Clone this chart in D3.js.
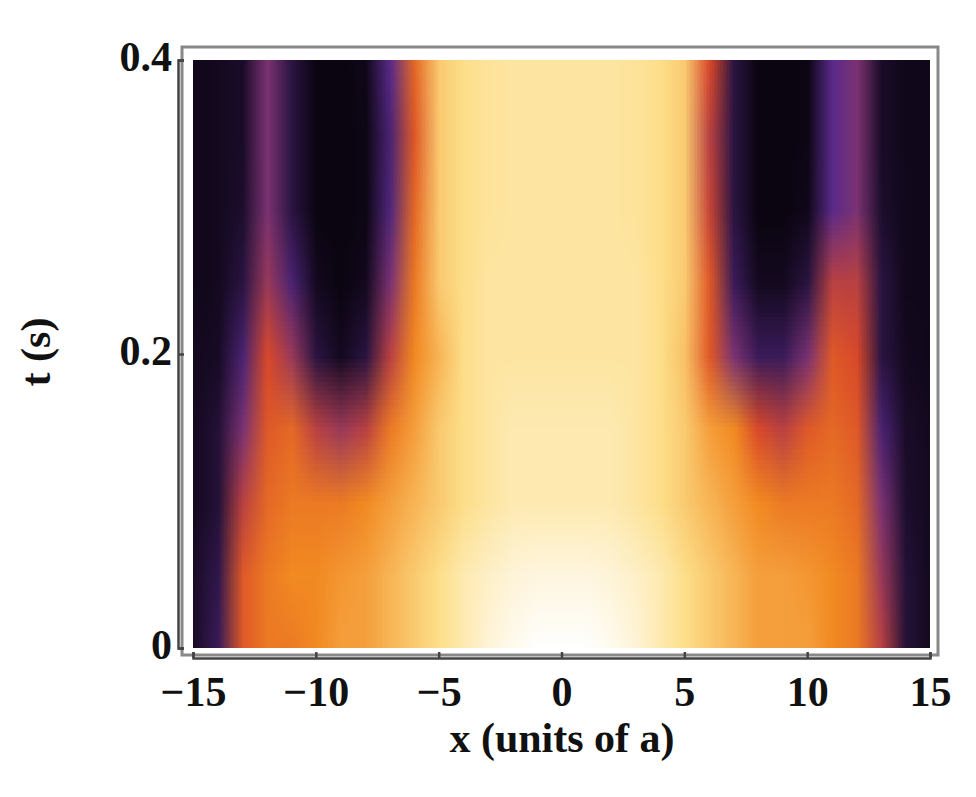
<!DOCTYPE html>
<html><head><meta charset="utf-8">
<script src="https://cdn.jsdelivr.net/npm/d3@7"></script>
<style>body{margin:0;background:#fff}</style></head>
<body><svg id="c" width="976" height="797"></svg>
<script>
const xValues = d3.range(-15, 16, 1);
const tValues = [0, 0.05, 0.1, 0.15, 0.2, 0.25, 0.3, 0.35, 0.4];
// intensity 0..10, one row per t, columns x=-15..15
const rowT000 = [0.5,1.5,5,6,6,6.5,7,7,7.5,8,8.5,9,9.5,9.8,10,10,10,9.8,9.5,9,8.5,8,7.5,7,7,7,6.5,6,4,0.8,0.3];
const rowT005 = [0.5,1.2,5,6,6.5,6.5,6.8,7,7.5,8,8.5,9,9.3,9.5,9.6,9.6,9.6,9.5,9.3,9,8.5,8,7.5,7,7,6.8,6.5,6,3.5,0.8,0.3];
const rowT010 = [0.3,0.8,4,5.5,6,6,6,6.5,7,7.5,8,8.5,8.8,9,9,9,9,9,8.8,8.5,8,7.5,7,6.5,6,6,6,5.5,3,0.6,0.3];
const rowT015 = [0.3,0.8,3,5,5.5,4,3.5,4,6,7,8,8.5,8.8,9,9,9,9,9,8.8,8.5,8,7,6.5,4.5,4,5,5.5,5,2,0.5,0.3];
const rowT020 = [0.3,0.4,2,4.5,3.5,1,0.3,1,4,6.5,7.5,8.5,8.8,8.8,8.8,8.8,8.8,8.8,8.8,8.5,7.8,5,3,1.5,1.5,3,5,4.5,1,0.3,0.2];
const rowT025 = [0.2,0.3,1,3.5,2,0.3,0,0.3,3,6,8,8.5,8.8,8.8,8.8,8.8,8.8,8.8,8.8,8.5,8,5,1.5,0.3,0.3,1,4,4,1,0.2,0.2];
const rowT030 = [0.2,0.3,0.6,3,1,0,0,0.1,2.2,5.5,8,8.5,8.7,8.8,8.8,8.8,8.8,8.8,8.7,8.5,8,4.2,1,0,0,0.2,2.5,3,0.6,0.2,0.2];
const rowT035 = [0.2,0.3,0.5,3,1,0,0,0.1,2,5,8,8.5,8.7,8.8,8.8,8.8,8.8,8.8,8.7,8.5,8,4,1,0,0,0.1,2.5,3,0.5,0.2,0.2];
const rowT040 = [0.2,0.3,0.5,3,1,0,0,0.2,2.5,5.5,8,8.5,8.7,8.8,8.8,8.8,8.8,8.8,8.7,8.5,8,4.5,1,0,0,0.1,2.5,3,0.5,0.2,0.2];
const grid = [rowT000,rowT005,rowT010,rowT015,rowT020,rowT025,rowT030,rowT035,rowT040];
const xTicks = [-15,-10,-5,0,5,10,15];
const tTicks = [0,0.2,0.4];
const tTickLabels = ["0","0.2","0.4"];

const L=193,R=930,T=60,B=648;
const x = d3.scaleLinear().domain([-15,15]).range([L,R]);
const y = d3.scaleLinear().domain([0,0.4]).range([B,T]);
const color = d3.scaleLinear().domain([0,2.5,4.5,6.5,8.5,10])
  .range(["#0a0510","#5a2a8a","#d8482a","#f28a22","#fddf8a","#ffffff"]);

const small = document.createElement("canvas");
small.width = xValues.length; small.height = tValues.length;
const sctx = small.getContext("2d");
grid.forEach((row,j)=>row.forEach((v,i)=>{
  sctx.fillStyle = color(v);
  sctx.fillRect(i, tValues.length-1-j, 1, 1);
}));
const big = document.createElement("canvas");
big.width = R-L; big.height = B-T;
const bctx = big.getContext("2d");
bctx.imageSmoothingEnabled = true;
const dx = x(1)-x(0), dy = y(0)-y(0.05);
bctx.drawImage(small, x(-15.5)-L, y(0.425)-T, dx*xValues.length, dy*tValues.length);

const svg = d3.select("#c");
svg.append("image").attr("x",L).attr("y",T).attr("width",R-L).attr("height",B-T)
  .attr("href", big.toDataURL());
svg.append("rect").attr("x",182).attr("y",47).attr("width",756).attr("height",608)
  .attr("fill","none").attr("stroke","#888").attr("stroke-width",3);

const font = "Liberation Serif, Times New Roman, serif";
function style(sel){ sel.attr("font-family",font).attr("font-size",42).attr("font-weight","bold").attr("fill","#111"); }
const xa = svg.append("g").attr("transform",`translate(0,658)`)
  .call(d3.axisBottom(x).tickValues(xTicks).tickSize(-6).tickFormat(d=>d<0?"\u2212"+(-d):d));
xa.select(".domain").attr("stroke","#444").attr("stroke-width",2.5);
xa.selectAll("line").attr("stroke","#444").attr("stroke-width",2.5);
xa.selectAll("text").call(style).attr("y",14).attr("dy","0.8em");
const ya = svg.append("g").attr("transform",`translate(178,0)`)
  .call(d3.axisLeft(y).tickValues(tTicks).tickSize(-6).tickFormat((d,i)=>tTickLabels[i]));
ya.select(".domain").attr("stroke","#444").attr("stroke-width",2.5);
ya.selectAll("line").attr("stroke","#444").attr("stroke-width",2.5);
ya.selectAll("text").call(style).attr("x",-6).attr("dy","0.25em");
svg.append("text").attr("x",562).attr("y",752).attr("text-anchor","middle").call(style).text("x (units of a)");
svg.append("text").attr("transform","translate(50,352) rotate(-90)").attr("text-anchor","middle").call(style).text("t (s)");
</script></body></html>
